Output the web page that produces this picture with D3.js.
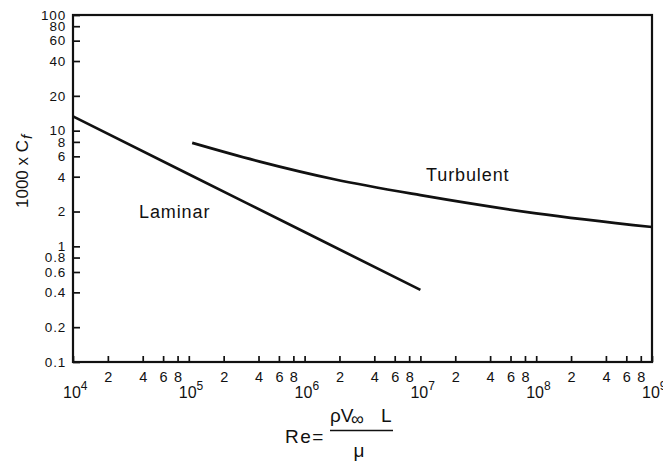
<!DOCTYPE html>
<html>
<head>
<meta charset="utf-8">
<script src="https://cdn.jsdelivr.net/npm/d3@7"></script>
<style>
  body { margin: 0; background: #fff; }
  svg { display: block; font-family: "Liberation Sans", Arial, sans-serif; }
</style>
</head>
<body>
<svg width="663" height="466"></svg>
<script>
// values (Re, 1000 x Cf)
const laminarRe = [1e4, 1e5, 1e6, 1e7];
const laminarCf = [13.3, 4.2, 1.33, 0.42];
const turbulentRe = [1.07e5, 4.1e5, 1.8e6, 1e7, 1e8, 1e9];
const turbulentCf = [7.85, 5.4, 3.8, 2.77, 1.93, 1.47];

// axis ticks
const decades = [4, 5, 6, 7, 8, 9];
const minorMults = [2, 4, 6, 8];
const yTicks = [0.1, 0.2, 0.4, 0.6, 0.8, 1, 2, 4, 6, 8, 10, 20, 40, 60, 80, 100];
const yTickLabels = ['0.1', '0.2', '0.4', '0.6', '0.8', '1', '2', '4', '6', '8', '10', '20', '40', '60', '80', '100'];

const svg = d3.select('svg');
const plotLeft = 73, plotRight = 652, plotTop = 15, plotBottom = 362;
const ink = '#111';

const x = d3.scaleLog().domain([1e4, 1e9]).range([plotLeft, plotRight]);
const y = d3.scaleLog().domain([0.1, 100]).range([plotBottom, plotTop]);

// x tick values: every decade plus 2,4,6,8 multiples
const xTicks = [];
decades.forEach(d => {
    xTicks.push(Math.pow(10, d));
    if (d < 9) minorMults.forEach(m => xTicks.push(m * Math.pow(10, d)));
});

// bottom axis (ticks pointing inward)
const xAxis = svg.append('g')
    .attr('transform', `translate(0,${plotBottom})`)
    .call(d3.axisBottom(x)
        .tickValues(xTicks)
        .tickSizeInner(-6)
        .tickSizeOuter(0)
        .tickPadding(10)
        .tickFormat(v => {
            const m = Math.round(v / Math.pow(10, Math.floor(Math.log10(v) + 1e-9)));
            return m === 1 ? '' : String(m);
        }));
xAxis.select('.domain').remove();
xAxis.selectAll('line').attr('stroke', ink).attr('stroke-width', 1.7);
xAxis.selectAll('text').attr('font-size', 14.5).attr('fill', ink)
    .attr('font-family', '"Liberation Sans", Arial, sans-serif');

// left axis
const yAxis = svg.append('g')
    .attr('transform', `translate(${plotLeft},0)`)
    .call(d3.axisLeft(y)
        .tickValues(yTicks)
        .tickSizeInner(-7)
        .tickSizeOuter(0)
        .tickPadding(7)
        .tickFormat((v, i) => yTickLabels[i]));
yAxis.select('.domain').remove();
yAxis.selectAll('line').attr('stroke', ink).attr('stroke-width', 1.7);
yAxis.selectAll('text').attr('font-size', 13.5).attr('letter-spacing', 0.8).attr('fill', ink)
    .attr('font-family', '"Liberation Sans", Arial, sans-serif');

// frame
svg.append('rect')
    .attr('x', plotLeft).attr('y', plotTop)
    .attr('width', plotRight - plotLeft).attr('height', plotBottom - plotTop)
    .attr('fill', 'none').attr('stroke', ink).attr('stroke-width', 2.2);

// decade labels 10^n
decades.forEach(d => {
    const t = svg.append('text')
        .attr('x', x(Math.pow(10, d)) - 10)
        .attr('y', 398)
        .attr('font-size', 16)
        .attr('fill', ink);
    t.append('tspan').text('10');
    t.append('tspan').attr('dy', -8).attr('font-size', 12).text(String(d));
});

// curves
const line = d3.line()
    .x(d => x(d[0]))
    .y(d => y(d[1]))
    .curve(d3.curveMonotoneX);

svg.append('path')
    .datum(laminarRe.map((r, i) => [r, laminarCf[i]]))
    .attr('fill', 'none').attr('stroke', ink).attr('stroke-width', 2.7)
    .attr('d', line);

svg.append('path')
    .datum(turbulentRe.map((r, i) => [r, turbulentCf[i]]))
    .attr('fill', 'none').attr('stroke', ink).attr('stroke-width', 2.7)
    .attr('d', line);

// curve labels
svg.append('text').attr('x', 139).attr('y', 218)
    .attr('font-size', 18).attr('letter-spacing', 0.9).attr('fill', ink).text('Laminar');
svg.append('text').attr('x', 426).attr('y', 181)
    .attr('font-size', 18).attr('letter-spacing', 0.9).attr('fill', ink).text('Turbulent');

// y axis title: 1000 x Cf
const yt = svg.append('text')
    .attr('transform', 'translate(28,208) rotate(-90)')
    .attr('font-size', 17).attr('fill', ink);
yt.append('tspan').text('1000 x C');
yt.append('tspan').attr('dx', 1).attr('dy', 4).attr('font-size', 15).attr('font-style', 'italic').text('f');

// x axis title: Re = rho V_inf L / mu
svg.append('text').attr('x', 285).attr('y', 443)
    .attr('font-size', 19).attr('letter-spacing', 1.5).attr('fill', ink).text('Re=');
svg.append('text').attr('x', 330).attr('y', 422)
    .attr('font-size', 19).attr('fill', ink).text('ρV');
svg.append('text').attr('x', 351).attr('y', 425)
    .attr('font-size', 18).attr('fill', ink).text('∞');
svg.append('text').attr('x', 381).attr('y', 422)
    .attr('font-size', 19).attr('fill', ink).text('L');
svg.append('line')
    .attr('x1', 330).attr('x2', 393).attr('y1', 430.5).attr('y2', 430.5)
    .attr('stroke', ink).attr('stroke-width', 1.6);
svg.append('text').attr('x', 359).attr('y', 457)
    .attr('text-anchor', 'middle')
    .attr('font-size', 19).attr('fill', ink).text('μ');
</script>
</body>
</html>
